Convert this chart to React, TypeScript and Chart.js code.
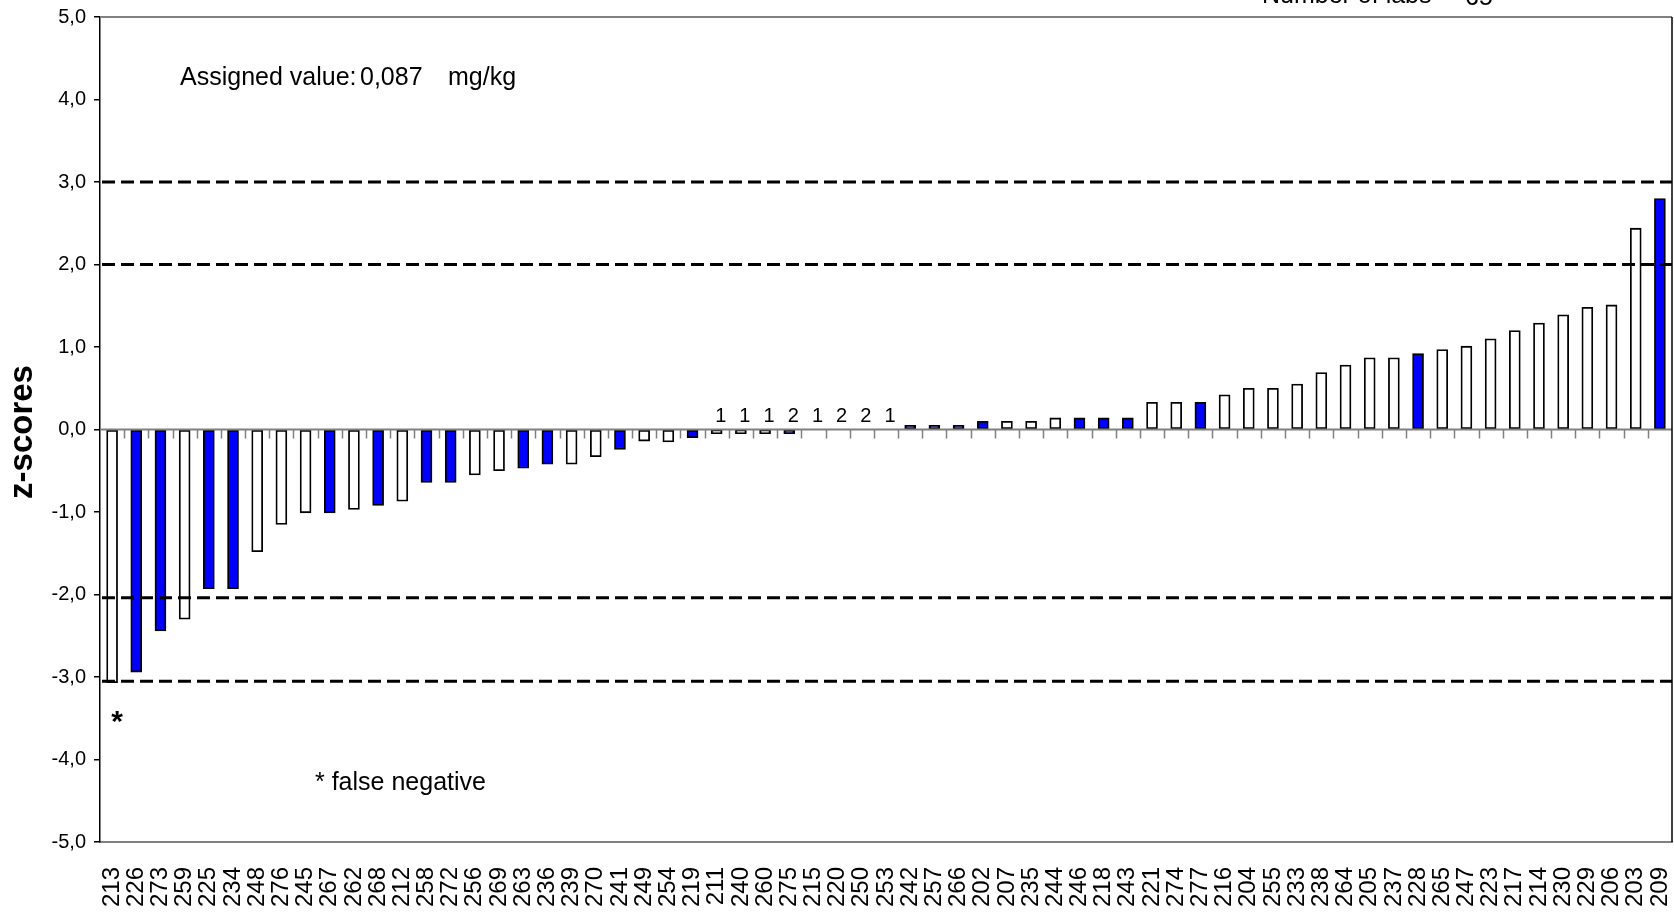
import React, { useEffect, useRef } from 'react';
import { Chart, registerables } from 'chart.js';

Chart.register(...registerables);

// Laboratory codes, ordered by z-score
const labs = [
  '213', '226', '273', '259', '225', '234', '248', '276', '245', '267', '262', '268', '212',
  '258', '272', '256', '269', '263', '236', '239', '270', '241', '249', '254', '219', '211',
  '240', '260', '275', '215', '220', '250', '253', '242', '257', '266', '202', '207', '235',
  '244', '246', '218', '243', '221', '274', '277', '216', '204', '255', '233', '238', '264',
  '205', '237', '228', '265', '247', '223', '217', '214', '230', '229', '206', '203', '209',
];

// z-score per laboratory
const zScores = [
  -3.07, -2.94, -2.44, -2.3, -1.93, -1.93, -1.48, -1.15, -1.01, -1.01, -0.97, -0.92, -0.87,
  -0.64, -0.64, -0.55, -0.5, -0.47, -0.42, -0.42, -0.33, -0.24, -0.14, -0.15, -0.1, -0.05,
  -0.05, -0.05, -0.05, 0, 0, 0, 0, 0.05, 0.05, 0.05, 0.1, 0.1, 0.1,
  0.14, 0.14, 0.14, 0.14, 0.33, 0.33, 0.33, 0.42, 0.5, 0.5, 0.55, 0.69, 0.78,
  0.87, 0.87, 0.92, 0.97, 1.01, 1.1, 1.2, 1.29, 1.39, 1.48, 1.51, 2.44, 2.8,
];

// Laboratories drawn with a filled (blue) bar
const blueLabs = [
  '226', '273', '225', '234', '267', '268', '258', '272', '263', '236', '241', '219', '275',
  '242', '257', '266', '202', '246', '218', '243', '277', '228', '209',
];

// Small count notes printed above some laboratories
const noteLabs = ['211', '240', '260', '275', '215', '220', '250', '253'];
const noteCounts = ['1', '1', '1', '2', '1', '2', '2', '1'];

// Dashed limit lines
const limitLines = [3.0, 2.0, -2.04, -3.05];

const falseNegativeLabs = ['213'];

const assignedValue = '0,087';
const assignedUnit = 'mg/kg';
const labCount = '65';

const FONT = '"Liberation Sans", Arial, Helvetica, sans-serif';

const overlay = {
  id: 'overlay',
  afterDatasetsDraw(chart: any) {
    const { ctx, chartArea: a, scales } = chart;
    const x = scales.x;
    const y = scales.y;
    ctx.save();

    const step = x.getPixelForValue(1) - x.getPixelForValue(0);
    const y0 = y.getPixelForValue(0);

    // zero line with category boundary ticks
    ctx.strokeStyle = '#808080';
    ctx.lineWidth = 2;
    ctx.beginPath();
    ctx.moveTo(a.left, y0);
    ctx.lineTo(a.right, y0);
    ctx.stroke();
    ctx.lineWidth = 1.5;
    ctx.beginPath();
    for (let k = 1; k < labs.length; k++) {
      const px = Math.round(x.getPixelForValue(k) - step / 2) + 0.5;
      ctx.moveTo(px, y0);
      ctx.lineTo(px, y0 + 9);
    }
    ctx.stroke();

    // dashed limits
    ctx.setLineDash([13, 6]);
    ctx.strokeStyle = '#000';
    ctx.lineWidth = 3;
    for (const v of limitLines) {
      const py = y.getPixelForValue(v);
      ctx.beginPath();
      ctx.moveTo(a.left + 2, py);
      ctx.lineTo(a.right, py);
      ctx.stroke();
    }
    ctx.setLineDash([]);

    // frame: grey top, black right
    ctx.strokeStyle = '#808080';
    ctx.lineWidth = 2;
    ctx.beginPath();
    ctx.moveTo(a.left, a.top);
    ctx.lineTo(a.right, a.top);
    ctx.stroke();
    ctx.strokeStyle = '#000';
    ctx.lineWidth = 1.5;
    ctx.beginPath();
    ctx.moveTo(a.right, a.top);
    ctx.lineTo(a.right, a.bottom);
    ctx.stroke();

    ctx.fillStyle = '#000';
    ctx.textBaseline = 'alphabetic';

    // count notes
    ctx.font = `20px ${FONT}`;
    ctx.textAlign = 'center';
    noteLabs.forEach((lab, i) => {
      const idx = labs.indexOf(lab);
      ctx.fillText(noteCounts[i], x.getPixelForValue(idx) + 4, y0 - 8);
    });

    // false negative markers
    ctx.font = `bold 30px ${FONT}`;
    falseNegativeLabs.forEach((lab) => {
      const idx = labs.indexOf(lab);
      const bottom = y.getPixelForValue(zScores[idx]);
      ctx.fillText('*', x.getPixelForValue(idx) + 5, bottom + 48);
    });

    // annotations
    ctx.textAlign = 'left';
    ctx.font = `25px ${FONT}`;
    ctx.fillText('Assigned value:', 180, 85);
    ctx.fillText(assignedValue, 360, 85);
    ctx.fillText(assignedUnit, 448, 85);
    ctx.fillText('* false negative', 315, 790);
    ctx.fillText('Number of labs', 1262, 3);
    ctx.fillText(labCount, 1465, 5);

    // y-axis title
    ctx.save();
    ctx.translate(32, 432);
    ctx.rotate(-Math.PI / 2);
    ctx.textAlign = 'center';
    ctx.font = `bold 33px ${FONT}`;
    ctx.fillText('z-scores', 0, 0);
    ctx.restore();

    ctx.restore();
  },
};

export default function App() {
  const canvasRef = useRef<HTMLCanvasElement | null>(null);

  useEffect(() => {
    if (!canvasRef.current) return;
    const chart = new Chart(canvasRef.current, {
      type: 'bar',
      data: {
        labels: labs,
        datasets: [
          {
            data: zScores,
            backgroundColor: labs.map((l) => (blueLabs.includes(l) ? '#0000FF' : '#FFFFFF')),
            borderColor: '#000000',
            borderWidth: zScores.map((v) => (v === 0 ? 0 : 1.8)),
            borderSkipped: false,
            barThickness: 11,
          },
        ],
      },
      options: {
        animation: false,
        responsive: true,
        maintainAspectRatio: false,
        layout: { padding: { top: 17, right: 2, left: 0, bottom: 0 } },
        plugins: {
          legend: { display: false },
          tooltip: { enabled: false },
        },
        scales: {
          x: {
            grid: { display: false, drawTicks: false },
            border: { display: true, color: '#808080', width: 2 },
            ticks: {
              autoSkip: false,
              minRotation: 90,
              maxRotation: 90,
              padding: 25,
              color: '#000',
              font: { family: FONT, size: 24 },
            },
            afterFit: (s: any) => {
              s.height = 70;
              s.paddingLeft = 0;
              s.paddingRight = 0;
            },
          },
          y: {
            min: -5,
            max: 5,
            ticks: {
              stepSize: 1,
              color: '#000',
              padding: 8,
              font: { family: FONT, size: 20 },
              callback: (v: any) => Number(v).toFixed(1).replace('.', ','),
            },
            grid: {
              drawOnChartArea: false,
              drawTicks: true,
              tickLength: 6,
              color: '#000',
              lineWidth: 1.5,
            },
            border: { display: true, color: '#000', width: 1.5 },
            afterFit: (s: any) => {
              s.width = 100;
              s.paddingTop = 0;
              s.paddingBottom = 0;
            },
          },
        },
      },
      plugins: [overlay],
    });
    return () => chart.destroy();
  }, []);

  return (
    <div
      style={{
        position: 'fixed',
        left: 0,
        top: 0,
        width: 1674,
        height: 912,
        background: '#fff',
      }}
    >
      <canvas ref={canvasRef} />
    </div>
  );
}
